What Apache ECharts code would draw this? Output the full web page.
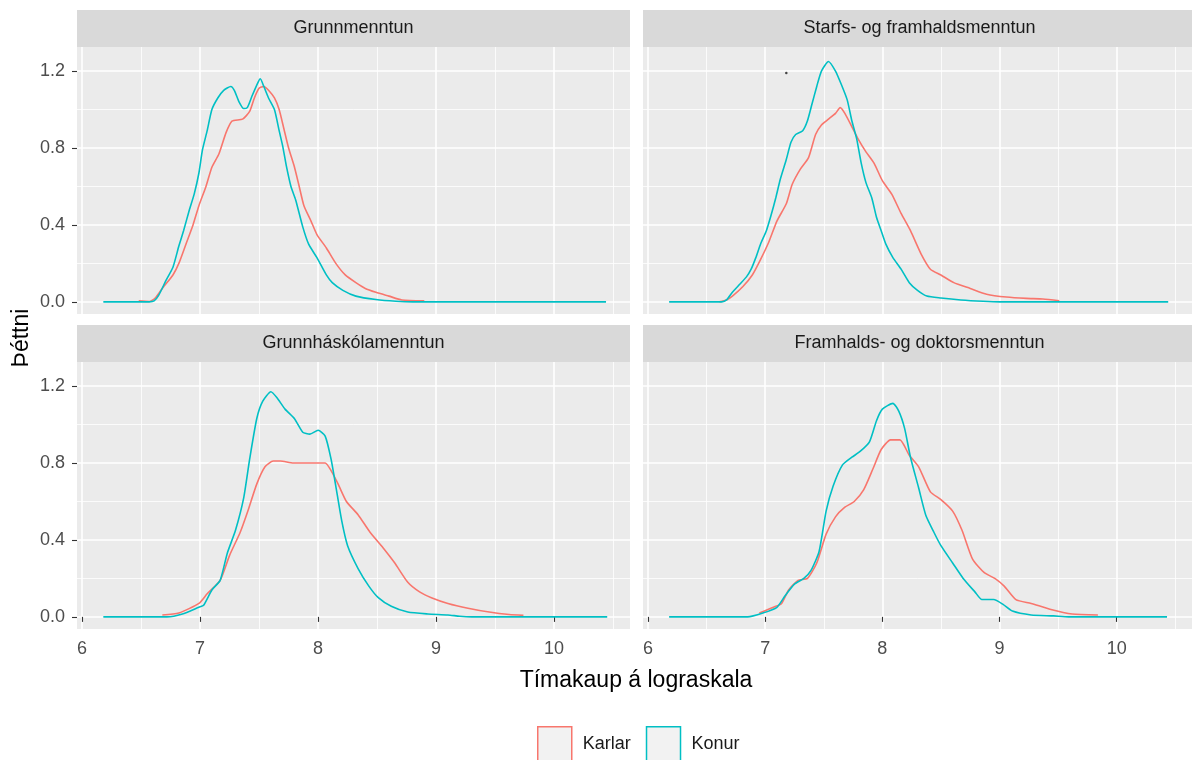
<!DOCTYPE html>
<html>
<head>
<meta charset="utf-8">
<title>Þéttni tímakaups eftir menntun</title>
<script src="https://cdn.jsdelivr.net/npm/echarts@6/dist/echarts.min.js"></script>
<style>
html, body { margin: 0; padding: 0; background: #fff; }
#main { width: 1192px; height: 760px; }
</style>
</head>
<body>
<div id="main"></div>
<script type="text/javascript">
// panels (facets) and tick values
var panels = ['Grunnmenntun', 'Starfs- og framhaldsmenntun', 'Grunnháskólamenntun', 'Framhalds- og doktorsmenntun'];
var groups = ['Karlar', 'Konur'];
var xTicks = [6, 7, 8, 9, 10];
var xMinor = [6.5, 7.5, 8.5, 9.5, 10.5];
var yTicks = [0, 0.4, 0.8, 1.2];
var yMinor = [0.2, 0.6, 1.0];

// density curves, [log wage, density]
var grunnKarlar = [[6.48,0.005],[6.57,0.002],[6.62,0.02],[6.68,0.07],[6.77,0.14],[6.82,0.2],[6.88,0.3],[6.94,0.4],[6.99,0.5],[7.05,0.6],[7.1,0.7],[7.16,0.77],[7.22,0.88],[7.27,0.94],[7.36,0.95],[7.42,0.99],[7.46,1.06],[7.5,1.11],[7.54,1.12],[7.58,1.1],[7.63,1.06],[7.67,1.0],[7.71,0.9],[7.75,0.8],[7.8,0.7],[7.84,0.6],[7.88,0.5],[7.94,0.42],[7.99,0.35],[8.07,0.28],[8.15,0.2],[8.23,0.14],[8.32,0.1],[8.4,0.07],[8.49,0.05],[8.6,0.03],[8.71,0.01],[8.9,0.005]];
var grunnKonur = [[6.18,0],[6.57,0],[6.61,0.005],[6.65,0.035],[6.71,0.11],[6.77,0.18],[6.82,0.29],[6.86,0.37],[6.91,0.48],[6.95,0.56],[6.99,0.67],[7.02,0.79],[7.06,0.89],[7.1,1.0],[7.15,1.06],[7.2,1.1],[7.26,1.12],[7.29,1.1],[7.33,1.04],[7.37,1.005],[7.4,1.01],[7.44,1.07],[7.49,1.14],[7.51,1.16],[7.54,1.12],[7.58,1.06],[7.63,1.0],[7.67,0.89],[7.7,0.81],[7.73,0.71],[7.77,0.6],[7.81,0.53],[7.87,0.39],[7.92,0.3],[7.99,0.23],[8.07,0.14],[8.12,0.1],[8.21,0.06],[8.32,0.03],[8.49,0.012],[8.66,0.003],[8.8,0],[10.44,0]];
var starfsKarlar = [[6.61,0],[6.67,0.01],[6.72,0.03],[6.81,0.08],[6.89,0.14],[6.96,0.22],[7.03,0.31],[7.1,0.42],[7.18,0.51],[7.23,0.61],[7.3,0.69],[7.37,0.75],[7.43,0.87],[7.48,0.92],[7.54,0.95],[7.6,0.98],[7.64,1.01],[7.68,0.98],[7.74,0.91],[7.79,0.85],[7.86,0.78],[7.93,0.72],[8.0,0.63],[8.08,0.56],[8.16,0.46],[8.24,0.37],[8.33,0.25],[8.41,0.17],[8.5,0.14],[8.61,0.1],[8.75,0.07],[8.89,0.04],[9.06,0.025],[9.23,0.018],[9.37,0.015],[9.51,0.006]];
var starfsKonur = [[6.18,0],[6.63,0],[6.67,0.01],[6.72,0.05],[6.78,0.09],[6.84,0.13],[6.88,0.17],[6.92,0.23],[6.96,0.3],[7.01,0.37],[7.05,0.45],[7.09,0.54],[7.13,0.64],[7.18,0.74],[7.22,0.83],[7.26,0.87],[7.32,0.89],[7.36,0.94],[7.4,1.03],[7.44,1.12],[7.48,1.2],[7.54,1.25],[7.6,1.2],[7.65,1.13],[7.7,1.05],[7.74,0.94],[7.78,0.85],[7.82,0.72],[7.86,0.62],[7.91,0.54],[7.95,0.44],[7.99,0.37],[8.03,0.3],[8.09,0.23],[8.16,0.17],[8.23,0.1],[8.3,0.06],[8.38,0.03],[8.5,0.02],[8.67,0.01],[8.86,0.003],[9.0,0],[10.44,0]];
var haskKarlar = [[6.68,0.01],[6.82,0.02],[6.99,0.07],[7.06,0.12],[7.17,0.19],[7.25,0.32],[7.34,0.44],[7.41,0.56],[7.48,0.69],[7.55,0.78],[7.62,0.81],[7.68,0.81],[7.79,0.8],[7.93,0.8],[8.06,0.8],[8.11,0.76],[8.17,0.69],[8.24,0.6],[8.34,0.53],[8.44,0.44],[8.55,0.36],[8.65,0.28],[8.76,0.18],[8.86,0.13],[8.96,0.1],[9.1,0.07],[9.27,0.045],[9.45,0.025],[9.62,0.012],[9.74,0.008]];
var haskKonur = [[6.18,0],[6.72,0],[6.85,0.015],[6.99,0.05],[7.03,0.06],[7.1,0.14],[7.17,0.19],[7.23,0.33],[7.3,0.45],[7.37,0.62],[7.42,0.82],[7.48,1.03],[7.53,1.12],[7.6,1.17],[7.65,1.14],[7.72,1.08],[7.8,1.03],[7.87,0.96],[7.93,0.95],[8.0,0.97],[8.06,0.94],[8.11,0.82],[8.15,0.68],[8.2,0.5],[8.25,0.37],[8.34,0.25],[8.43,0.16],[8.51,0.1],[8.62,0.055],[8.76,0.025],[8.93,0.015],[9.1,0.01],[9.2,0.003],[9.3,0],[10.45,0]];
var framKarlar = [[6.95,0.02],[7.07,0.05],[7.14,0.07],[7.2,0.14],[7.28,0.19],[7.36,0.2],[7.44,0.28],[7.52,0.43],[7.6,0.52],[7.68,0.57],[7.76,0.6],[7.84,0.66],[7.92,0.77],[7.99,0.87],[8.07,0.92],[8.15,0.92],[8.23,0.84],[8.31,0.78],[8.41,0.65],[8.5,0.61],[8.6,0.55],[8.68,0.45],[8.77,0.3],[8.87,0.23],[8.96,0.2],[9.04,0.16],[9.14,0.09],[9.27,0.07],[9.43,0.04],[9.62,0.015],[9.84,0.01]];
var framKonur = [[6.18,0],[6.85,0],[6.98,0.02],[7.1,0.05],[7.17,0.11],[7.25,0.17],[7.33,0.2],[7.39,0.24],[7.46,0.34],[7.52,0.55],[7.58,0.68],[7.66,0.79],[7.74,0.83],[7.81,0.86],[7.89,0.91],[7.95,1.02],[8.0,1.08],[8.09,1.11],[8.14,1.07],[8.19,0.98],[8.24,0.83],[8.31,0.67],[8.37,0.53],[8.44,0.44],[8.5,0.37],[8.6,0.28],[8.69,0.2],[8.79,0.13],[8.85,0.09],[8.95,0.09],[9.03,0.065],[9.11,0.03],[9.27,0.01],[9.46,0.005],[9.59,0],[10.43,0]];
// a lone dot in the second panel
var stray = [[7.18, 1.19]];

var curves = [
  [grunnKarlar, grunnKonur],
  [starfsKarlar, starfsKonur],
  [haskKarlar, haskKonur],
  [framKarlar, framKonur]
];

var RED = '#F8766D', CYAN = '#00BFC4';
var FONT = '"Liberation Sans", Arial, sans-serif';
var X_MIN = 5.957, X_MAX = 10.643, Y_MIN = -0.063, Y_MAX = 1.325;
var PW = 553, PH = 267, STRIP = 37;
var gridPos = [[77, 47], [643, 47], [77, 362], [643, 362]];

var myChart = echarts.init(document.getElementById('main'));

var grids = [], xAxes = [], yAxes = [], series = [], graphics = [];

gridPos.forEach(function (p, g) {
  var showX = g >= 2, showY = g % 2 === 0;
  grids.push({ left: p[0], top: p[1], width: PW, height: PH, show: true,
    backgroundColor: '#EBEBEB', borderWidth: 0 });

  xAxes.push({ type: 'value', gridIndex: g, min: X_MIN, max: X_MAX,
    axisLine: { show: false },
    axisTick: { show: showX, length: 5, customValues: xTicks, lineStyle: { color: '#333333', width: 1.1 } },
    axisLabel: { show: showX, customValues: xTicks, margin: 11, color: '#4D4D4D', fontSize: 18, fontFamily: FONT },
    splitLine: { show: true, lineStyle: { color: '#FFFFFF', width: 1.6 } } });
  xAxes.push({ type: 'value', gridIndex: g, min: X_MIN, max: X_MAX,
    axisLine: { show: false },
    axisTick: { show: false, customValues: xMinor },
    axisLabel: { show: false, customValues: xMinor },
    splitLine: { show: true, lineStyle: { color: '#FFFFFF', width: 0.8 } } });

  yAxes.push({ type: 'value', gridIndex: g, min: Y_MIN, max: Y_MAX,
    axisLine: { show: false },
    axisTick: { show: showY, length: 5, customValues: yTicks, lineStyle: { color: '#333333', width: 1.1 } },
    axisLabel: { show: showY, customValues: yTicks, margin: 12, color: '#4D4D4D', fontSize: 18, fontFamily: FONT,
      formatter: function (v) { return v.toFixed(1); } },
    splitLine: { show: true, lineStyle: { color: '#FFFFFF', width: 1.6 } } });
  yAxes.push({ type: 'value', gridIndex: g, min: Y_MIN, max: Y_MAX,
    axisLine: { show: false },
    axisTick: { show: false, customValues: yMinor },
    axisLabel: { show: false, customValues: yMinor },
    splitLine: { show: true, lineStyle: { color: '#FFFFFF', width: 0.8 } } });

  groups.forEach(function (name, k) {
    var color = k === 0 ? RED : CYAN;
    series.push({ name: name, type: 'line', xAxisIndex: 2 * g, yAxisIndex: 2 * g,
      data: curves[g][k], showSymbol: false, symbol: 'none', smooth: 0.2,
      lineStyle: { color: color, width: 1.6 }, itemStyle: { color: color },
      silent: true, z: 2 + k });
  });

  // facet strip
  graphics.push({ type: 'rect', left: p[0], top: p[1] - STRIP,
    shape: { width: PW, height: STRIP }, style: { fill: '#D9D9D9' }, silent: true });
  graphics.push({ type: 'text', x: p[0] + PW / 2, y: p[1] - STRIP / 2,
    style: { text: panels[g], fill: '#1A1A1A', font: '18px ' + FONT, align: 'center', verticalAlign: 'middle' } });
});

series.push({ type: 'scatter', xAxisIndex: 2, yAxisIndex: 2, data: stray,
  symbolSize: 2.5, itemStyle: { color: '#1A1A1A' }, silent: true });

graphics.push({ type: 'text', x: 636, y: 681,
  style: { text: 'Tímakaup á lograskala', fill: '#000000', font: '23px ' + FONT, align: 'center', verticalAlign: 'middle' } });
graphics.push({ type: 'text', x: 22, y: 338, rotation: Math.PI / 2,
  style: { text: 'Þéttni', fill: '#000000', font: '23px ' + FONT, align: 'center', verticalAlign: 'middle' } });

var option = {
  animation: false,
  backgroundColor: '#FFFFFF',
  grid: grids,
  xAxis: xAxes,
  yAxis: yAxes,
  legend: {
    left: 537, top: 726, padding: 0, itemWidth: 34, itemHeight: 34, itemGap: 15,
    selectedMode: false,
    textStyle: { fontSize: 18, color: '#1A1A1A', fontFamily: FONT, padding: [0, 0, 0, 6] },
    data: [
      { name: 'Karlar', icon: 'rect', itemStyle: { color: '#F2F2F2', borderColor: RED, borderWidth: 1.5 } },
      { name: 'Konur', icon: 'rect', itemStyle: { color: '#F2F2F2', borderColor: CYAN, borderWidth: 1.5 } }
    ]
  },
  graphic: graphics,
  series: series
};
myChart.setOption(option);
window.onresize = myChart.resize;
</script>
</body>
</html>
